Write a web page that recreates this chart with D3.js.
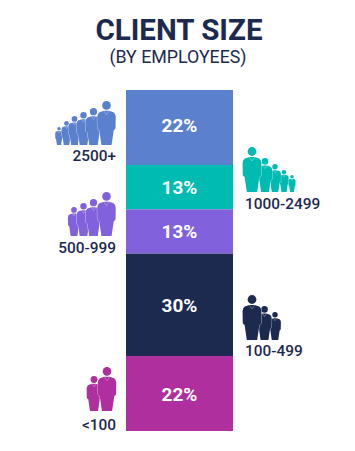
<!DOCTYPE html>
<html>
<head>
<meta charset="utf-8">
<script src="https://cdn.jsdelivr.net/npm/d3@7"></script>
<style>
  html, body { margin: 0; padding: 0; background: #fff; }
  svg { display: block; font-family: Roboto, sans-serif; }
</style>
</head>
<body>
<div id="chart"></div>
<script>
const categories = ['2500+', '1000-2499', '500-999', '100-499', '<100'];
const shares = [22, 13, 13, 30, 22];
const colors = ['#5a80ce', '#00bbb1', '#8161dc', '#1d2a50', '#ae2f9d'];

const WIDTH = 355;
const HEIGHT = 451;
const NAVY = '#1d2a50';

// label + icon placement per category, people listed back to front: [centre x, height]
const layout = [
  { labelX: 116, labelY: 161, anchor: 'end', footY: 145, pctShift: -2,
    people: [[59, 18], [66.5, 24], [74.5, 29], [83.5, 33], [93.5, 37], [106.5, 44]] },
  { labelX: 245, labelY: 209, anchor: 'start', footY: 192, pctShift: 0,
    people: [[292, 17], [284, 22], [275, 28], [265, 34], [252, 45]] },
  { labelX: 116, labelY: 253, anchor: 'end', footY: 236, pctShift: 0,
    people: [[74, 29], [83.5, 33], [93.5, 37], [106.5, 44]] },
  { labelX: 245, labelY: 356, anchor: 'start', footY: 340, pctShift: 0,
    people: [[275, 28], [264.5, 34], [252, 45]] },
  { labelX: 116, labelY: 430, anchor: 'end', footY: 411, pctShift: 1,
    people: [[94, 35], [107, 44]] }
];

const y = d3.scaleLinear().domain([0, 100]).range([90, 431]);
const x = d3.scaleBand().domain(['share']).range([126, 233]);

const svg = d3.select('#chart').append('svg')
  .attr('width', WIDTH)
  .attr('height', HEIGHT)
  .attr('viewBox', `0 0 ${WIDTH} ${HEIGHT}`);

svg.append('text')
  .attr('x', 179).attr('y', 40)
  .attr('text-anchor', 'middle')
  .attr('fill', NAVY)
  .style('font-size', '29.5px').style('font-weight', 700)
  .text('CLIENT SIZE');

svg.append('text')
  .attr('x', 178).attr('y', 62.5)
  .attr('text-anchor', 'middle')
  .attr('fill', NAVY)
  .style('font-size', '17.8px')
  .text('(BY EMPLOYEES)');

const stacked = d3.cumsum(shares);
const starts = shares.map((d, i) => stacked[i] - d);

svg.selectAll('.seg')
  .data(shares)
  .enter().append('rect')
  .attr('class', 'seg')
  .attr('x', x('share'))
  .attr('y', (_, i) => y(starts[i]))
  .attr('width', x.bandwidth())
  .attr('height', d => y(d) - y(0))
  .attr('fill', (_, i) => colors[i]);

svg.selectAll('.pct')
  .data(shares)
  .enter().append('text')
  .attr('class', 'pct')
  .attr('x', x('share') + x.bandwidth() / 2)
  .attr('y', (d, i) => y(starts[i] + d / 2) + layout[i].pctShift)
  .attr('dy', '0.36em')
  .attr('text-anchor', 'middle')
  .attr('fill', '#fff')
  .style('font-size', '19px').style('font-weight', 700)
  .text(d => `${d}%`);

svg.selectAll('.cat')
  .data(categories)
  .enter().append('text')
  .attr('class', 'cat')
  .attr('x', (_, i) => layout[i].labelX)
  .attr('y', (_, i) => layout[i].labelY)
  .attr('text-anchor', (_, i) => layout[i].anchor)
  .attr('fill', NAVY)
  .style('font-size', '15.4px').style('font-weight', 500)
  .text(d => d);

// one person in units of its own height, feet at y=0, head at the top
const BODY = 'M-0.06,-0.78 L0.06,-0.78 L0.16,-0.745 Q0.205,-0.72 0.21,-0.64 L0.205,-0.38 ' +
  'Q0.195,-0.34 0.165,-0.34 L0.115,0 L-0.115,0 L-0.165,-0.34 Q-0.195,-0.34 -0.205,-0.38 L-0.21,-0.64 ' +
  'Q-0.205,-0.72 -0.16,-0.745 Z';
const COLLAR = 'M-0.065,-0.78 L0,-0.69 L0.065,-0.78';

layout.forEach((l, i) => {
  const icon = svg.append('g');
  const person = icon.selectAll('g')
    .data(l.people)
    .enter().append('g')
    .attr('transform', d => `translate(${d[0]},${l.footY}) scale(${d[1]})`);
  person.append('path')
    .attr('d', BODY)
    .attr('fill', colors[i])
    .attr('stroke', '#fff')
    .attr('stroke-opacity', 0.6)
    .attr('stroke-width', d => 1 / d[1])
    .style('paint-order', 'stroke');
  person.append('path')
    .attr('d', COLLAR)
    .attr('fill', 'none')
    .attr('stroke', '#fff')
    .attr('stroke-opacity', 0.5)
    .attr('stroke-width', d => 0.6 / d[1]);
  person.append('circle')
    .attr('cy', -0.9)
    .attr('r', 0.098)
    .attr('fill', colors[i]);
});
</script>
</body>
</html>
